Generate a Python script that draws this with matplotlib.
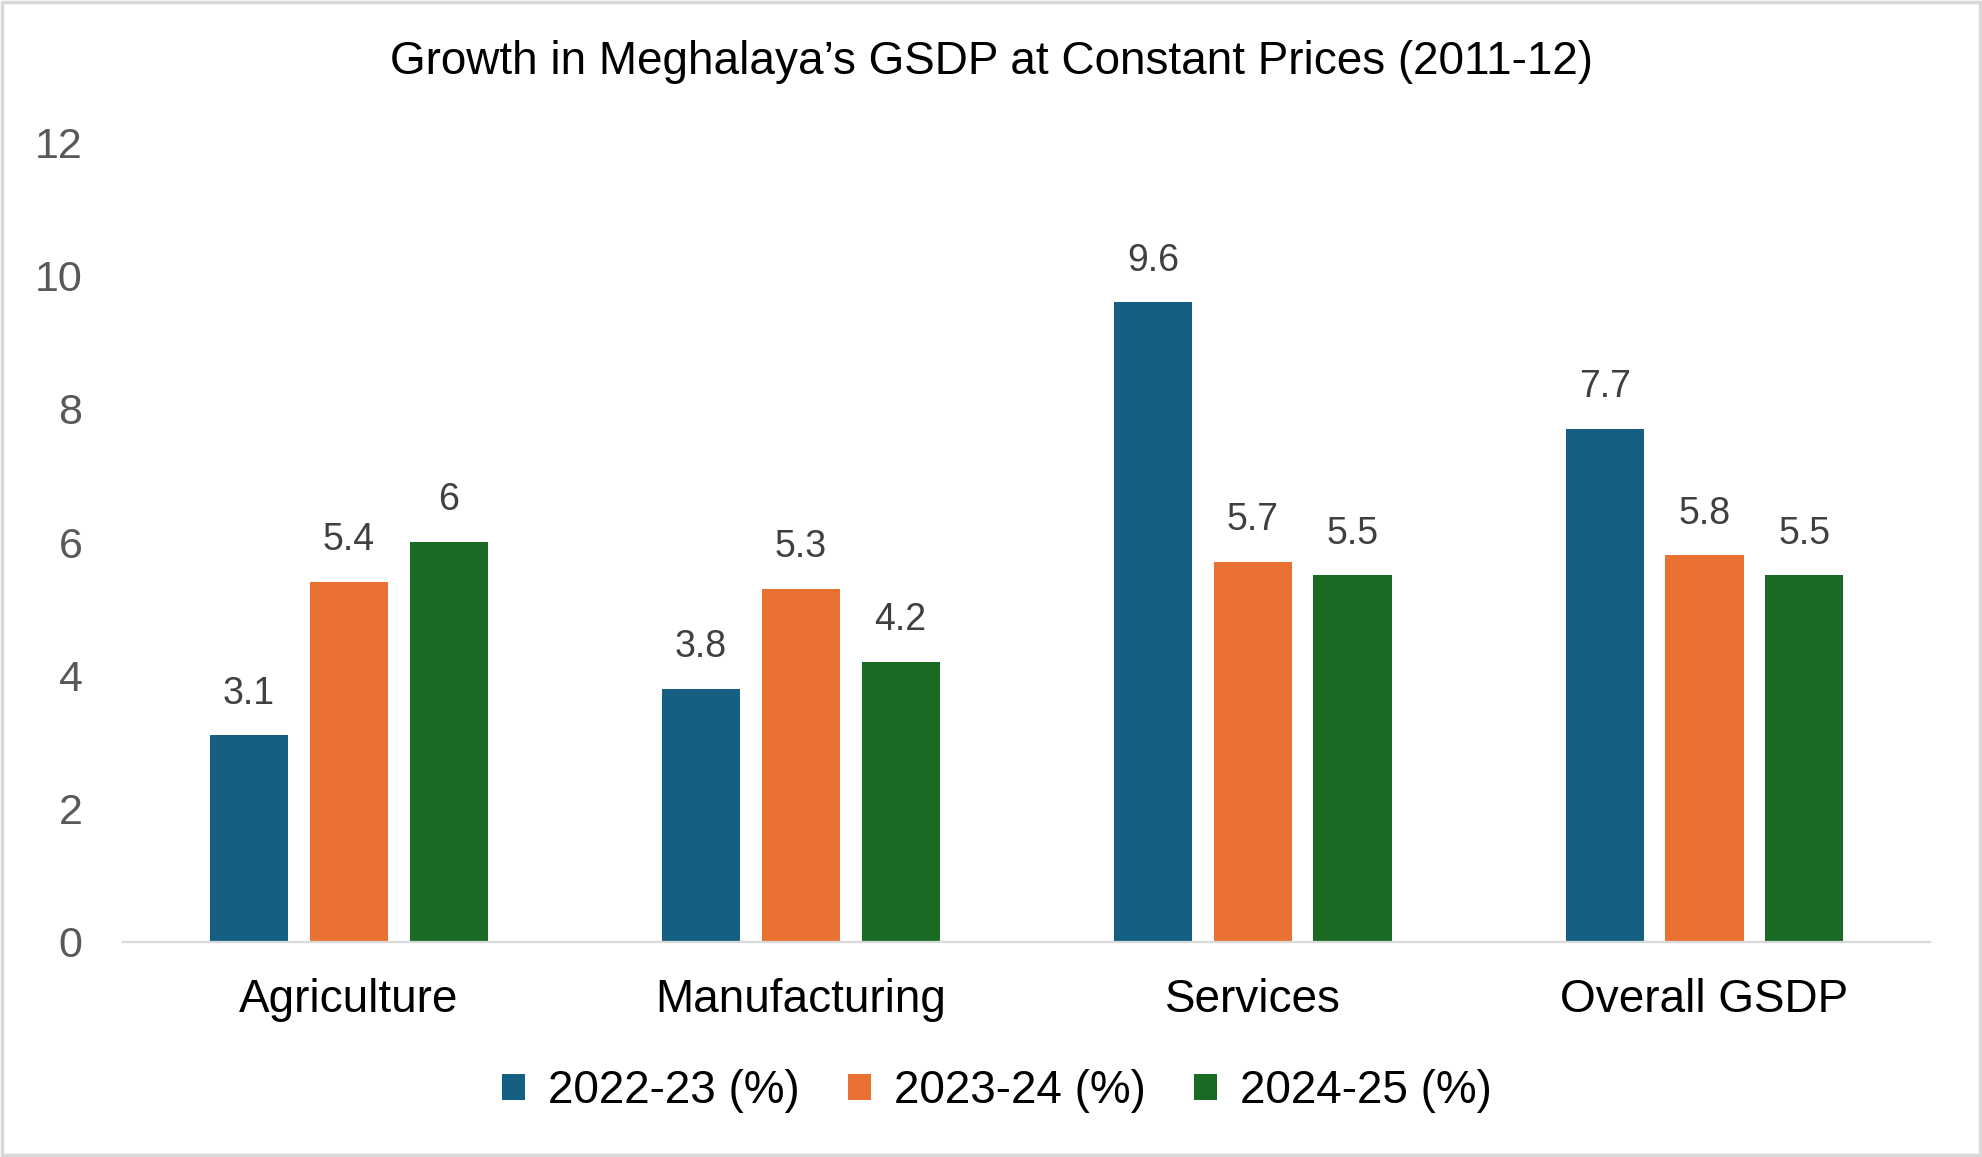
import numpy as np
import matplotlib
matplotlib.use('Agg')
import matplotlib.pyplot as plt
from matplotlib.patches import Rectangle

plt.rcParams['font.family'] = ['Liberation Sans', 'DejaVu Sans']

# data
categories = ['Agriculture', 'Manufacturing', 'Services', 'Overall GSDP']
series_names = ['2022-23 (%)', '2023-24 (%)', '2024-25 (%)']
growth_2022_23 = [3.1, 3.8, 9.6, 7.7]
growth_2023_24 = [5.4, 5.3, 5.7, 5.8]
growth_2024_25 = [6, 4.2, 5.5, 5.5]
y_ticks = [0, 2, 4, 6, 8, 10, 12]

colors = ['#156082', '#E97132', '#196B24']

fig = plt.figure(figsize=(19.82, 11.57), dpi=100)
ax = fig.add_axes([0.062, 0.186, 0.912, 0.691])

x = np.arange(len(categories))
width = 0.173
step = 0.221
all_series = [growth_2022_23, growth_2023_24, growth_2024_25]
for i, (vals, name) in enumerate(zip(all_series, series_names)):
    bars = ax.bar(x + (i - 1) * step, vals, width, color=colors[i], label=name)
    for b, v in zip(bars, vals):
        ax.annotate('{:g}'.format(v), (b.get_x() + b.get_width() / 2, v),
                    xytext=(0, 17), textcoords='offset points',
                    ha='center', va='bottom', fontsize=27, color='#404040')

ax.set_xlim(-0.5, 3.5)
ax.set_ylim(0, 12)
ax.set_yticks(y_ticks)
ax.set_xticks(x)
ax.set_xticklabels(categories)
ax.tick_params(axis='x', length=0, pad=26, labelsize=33, labelcolor='black')
ax.tick_params(axis='y', length=0, pad=29, labelsize=31, labelcolor='#595959')

for s in ['top', 'right', 'left']:
    ax.spines[s].set_visible(False)
ax.spines['bottom'].set_color('#d9d9d9')
ax.spines['bottom'].set_linewidth(1.6)

fig.text(0.5, 0.946, 'Growth in Meghalaya\u2019s GSDP at Constant Prices (2011-12)',
         ha='center', va='center', fontsize=33, color='black')

fig.legend(loc='center', bbox_to_anchor=(0.503, 0.057), ncol=3, frameon=False,
           fontsize=33, handlelength=0.5, handleheight=0.5, handletextpad=0.5,
           columnspacing=1.05)

# light grey frame around the whole picture
fig.patches.append(Rectangle((0.001, 0.0015), 0.998, 0.997, transform=fig.transFigure,
                             fill=False, edgecolor='#d9d9d9', linewidth=2.5))

fig.savefig('out.png', dpi=100, facecolor='white')
